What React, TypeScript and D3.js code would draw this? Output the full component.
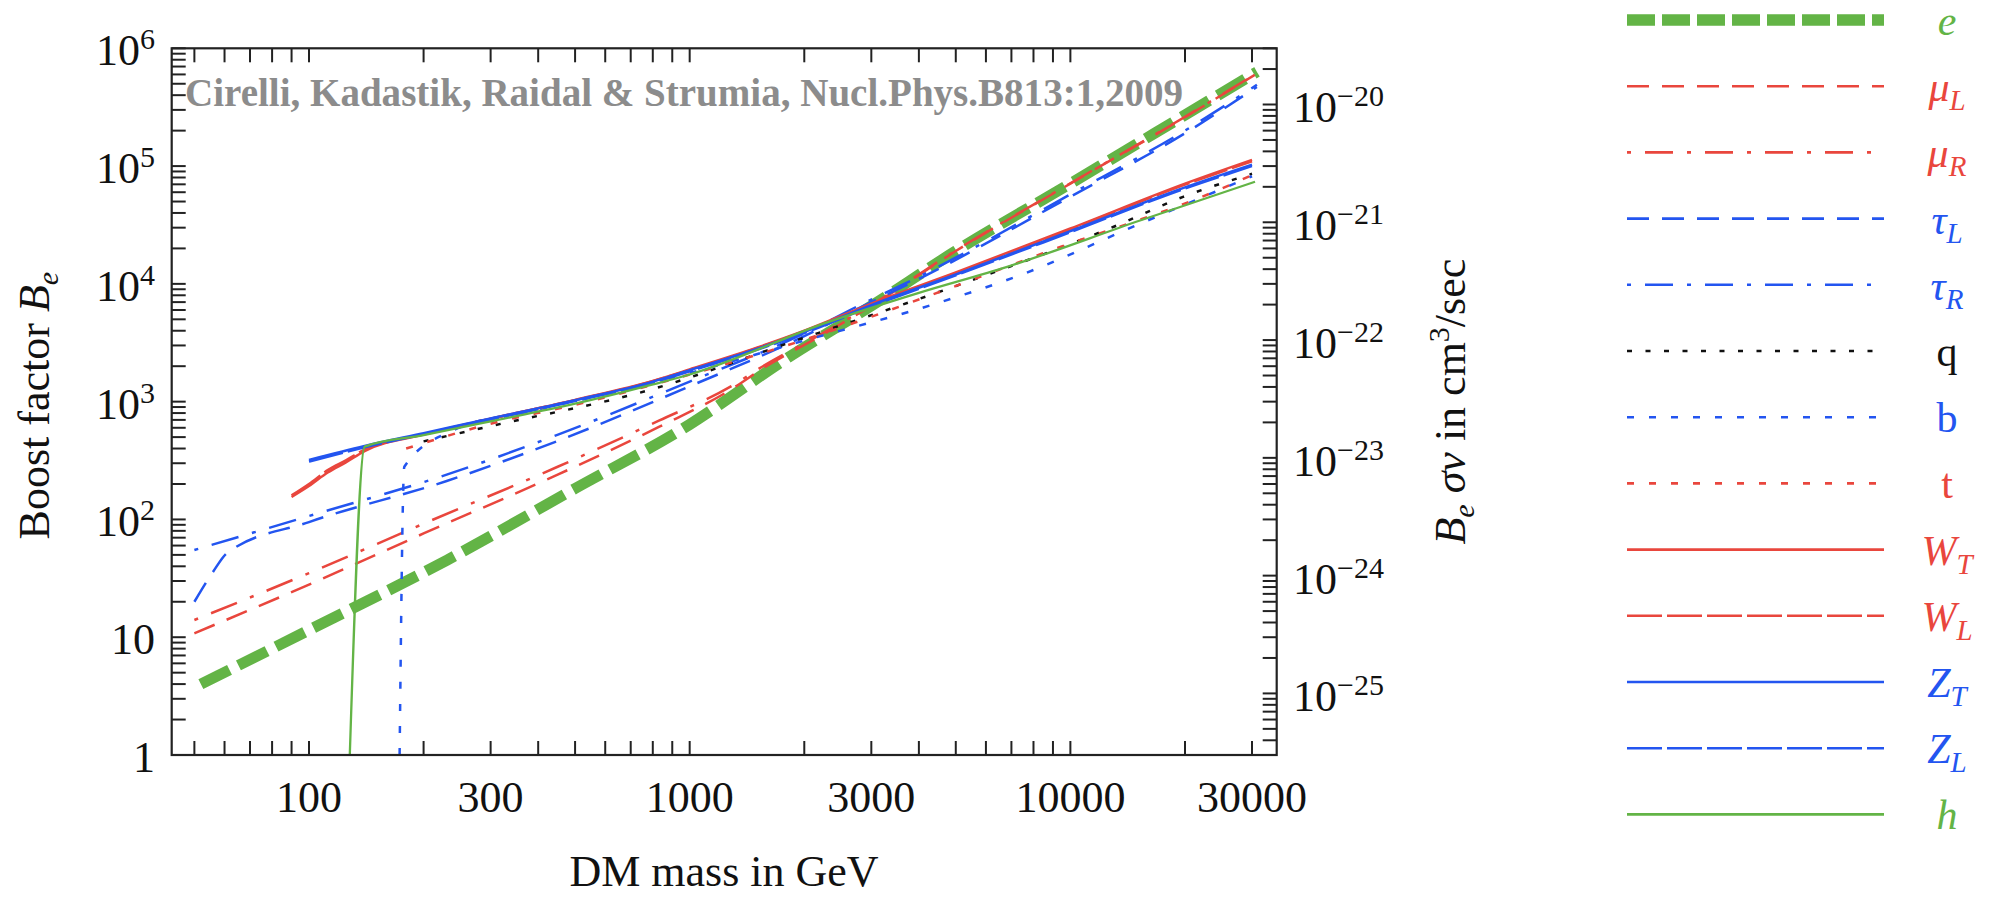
import React from "react";
import * as d3 from "d3";

// ---------- data (DM mass in GeV, boost factor B_e) ----------
const eData: [number, number][] = [[52, 4.0], [100, 11.5], [230, 45], [500, 183], [1000, 640], [1770, 2250], [3000, 6500], [5000, 19000], [10000, 71000], [16600, 189000], [30900, 631000]];
const muLData: [number, number][] = [[50, 10.8], [100, 28], [200, 76], [450, 240], [830, 610], [1280, 1260], [1550, 1900], [2200, 3600], [3000, 6500], [5000, 19000], [10000, 71000], [20000, 260000], [30500, 595000]];
const muRData: [number, number][] = [[50, 14], [100, 35], [200, 92], [450, 280], [830, 690], [1280, 1340], [1550, 1980], [2200, 3700], [3000, 6600], [5000, 19200], [10000, 71500], [20000, 262000], [30500, 600000]];
const tauLData: [number, number][] = [[50, 20], [56, 36], [61, 52], [100, 95], [230, 212], [451, 465], [1000, 1350], [2000, 3600], [2720, 6000], [4000, 11000], [10000, 55000], [20000, 190000], [30900, 470000]];
const tauRData: [number, number][] = [[50, 55], [100, 107], [230, 240], [451, 525], [1000, 1480], [2000, 3800], [2720, 6300], [4000, 11500], [10000, 57500], [20000, 200000], [30900, 490000]];
const qData: [number, number][] = [[200, 460], [300, 620], [787, 1260], [1815, 3140], [4932, 9440], [13000, 30550], [19770, 54800], [30000, 86000]];
const bData: [number, number][] = [[173, 1], [178, 280], [236, 560], [395, 850], [560, 1100], [1000, 1750], [2000, 3300], [4305, 6600], [7600, 12300], [14930, 31500], [30000, 82000]];
const tData: [number, number][] = [[180, 400], [300, 650], [500, 940], [1000, 1700], [2000, 3350], [4426, 8300], [8472, 18200], [26240, 69000], [30000, 84000]];
const WTData: [number, number][] = [[90, 155], [100, 192], [112, 250], [125, 305], [140, 380], [200, 525], [300, 715], [500, 1035], [800, 1500], [1000, 1880], [1500, 2870], [2000, 4000], [3000, 6800], [5000, 12500], [10000, 29500], [20000, 71000], [30000, 113000]];
const WLData: [number, number][] = [[90, 160], [100, 200], [112, 262], [125, 318], [140, 392], [200, 530], [300, 718], [500, 1030], [800, 1490], [1000, 1860], [1500, 2840], [2000, 3960], [3000, 6700], [5000, 12300], [10000, 29000], [20000, 69500], [30000, 110000]];
const ZTData: [number, number][] = [[100, 320], [140, 420], [200, 540], [300, 720], [500, 1030], [800, 1480], [1000, 1850], [1500, 2800], [2000, 3900], [3000, 6600], [5000, 12000], [10000, 28000], [20000, 66000], [30000, 103000]];
const ZLData: [number, number][] = [[100, 310], [140, 410], [200, 530], [300, 705], [500, 1010], [800, 1450], [1000, 1810], [1500, 2750], [2000, 3820], [3000, 6450], [5000, 11800], [10000, 27500], [20000, 64500], [30000, 100000]];
const hData: [number, number][] = [[128, 1], [140, 415], [200, 520], [300, 680], [500, 960], [787, 1380], [1000, 1700], [2317, 4760], [4000, 8400], [6823, 13960], [15310, 34700], [30550, 73600]];

const xTickLabels = [100, 300, 1000, 3000, 10000, 30000];
const yLeftExponents = [0, 1, 2, 3, 4, 5, 6];
const yRightExponents = [-25, -24, -23, -22, -21, -20];
const sigmaV = 3e-26;

const RED = "#E9463D";
const BLUE = "#2355F0";
const GREEN = "#63B446";
const BLACK = "#111111";

type Series = {
  key: string; base: string; sub?: string; italic: boolean; color: string;
  dash?: string; legendDash?: string; width: number; legendWidth: number; data: [number, number][];
};

const series: Series[] = [
  { key: "e", base: "e", italic: true, color: GREEN, dash: "32,10", legendDash: "28,7", width: 11, legendWidth: 11.5, data: eData },
  { key: "muL", base: "μ", sub: "L", italic: true, color: RED, dash: "22,13", width: 2.5, legendWidth: 2.6, data: muLData },
  { key: "muR", base: "μ", sub: "R", italic: true, color: RED, dash: "4,14,28,14", width: 2.5, legendWidth: 2.6, data: muRData },
  { key: "tauL", base: "τ", sub: "L", italic: true, color: BLUE, dash: "22,13", width: 2.5, legendWidth: 2.6, data: tauLData },
  { key: "tauR", base: "τ", sub: "R", italic: true, color: BLUE, dash: "4,14,28,14", width: 2.5, legendWidth: 2.6, data: tauRData },
  { key: "q", base: "q", italic: false, color: BLACK, dash: "5,13.5", width: 2.5, legendWidth: 2.6, data: qData },
  { key: "b", base: "b", italic: false, color: BLUE, dash: "7,15", width: 2.5, legendWidth: 2.6, data: bData },
  { key: "t", base: "t", italic: false, color: RED, dash: "7,15", width: 2.5, legendWidth: 2.6, data: tData },
  { key: "WT", base: "W", sub: "T", italic: true, color: RED, width: 2.5, legendWidth: 2.6, data: WTData },
  { key: "WL", base: "W", sub: "L", italic: true, color: RED, dash: "35,5", width: 2.5, legendWidth: 2.6, data: WLData },
  { key: "ZT", base: "Z", sub: "T", italic: true, color: BLUE, width: 2.5, legendWidth: 2.6, data: ZTData },
  { key: "ZL", base: "Z", sub: "L", italic: true, color: BLUE, dash: "35,5", width: 2.5, legendWidth: 2.6, data: ZLData },
  { key: "h", base: "h", italic: true, color: GREEN, width: 2.3, legendWidth: 2.6, data: hData },
];

const X0 = 171.7, X1 = 1276.7, Y0 = 48.3, Y1 = 755;
const FS = 44;
const AXIS = "#222";

export default function App() {
  const x = d3.scaleLog().domain([43.59, 34830]).range([X0, X1]);
  const y = d3.scaleLog().domain([1, 1e6]).range([Y1, Y0]);
  const yR = d3.scaleLog().domain([1 * sigmaV, 1e6 * sigmaV]).range([Y1, Y0]);
  const line = d3.line<[number, number]>().x(d => x(d[0])).y(d => y(d[1])).curve(d3.curveMonotoneX);

  const xTicks = x.ticks();
  const yTicks = y.ticks();
  const yRTicks = yR.ticks();
  const TL = 14;

  const legendX0 = 1627, legendX1 = 1884, legendTop = 20, legendStep = 66.2, legendLabelX = 1947;

  return (
    <svg width={1991} height={898} style={{ position: "absolute", left: 0, top: 0, background: "#fff" }}
      fontFamily="'Liberation Serif', 'Times New Roman', serif">
      <defs>
        <clipPath id="plotClip">
          <rect x={X0} y={Y0} width={X1 - X0} height={Y1 - Y0} />
        </clipPath>
      </defs>
      <rect x={0} y={0} width={1991} height={898} fill="#fff" />

      {/* curves */}
      <g clipPath="url(#plotClip)" fill="none" strokeLinejoin="round">
        {series.map(s => (
          <path key={s.key} d={line(s.data) || ""} stroke={s.color} strokeWidth={s.width}
            strokeDasharray={s.dash || undefined} />
        ))}
      </g>

      {/* annotation */}
      <text x={185} y={106} fontSize={41} fontWeight="bold" fill="#8c8c8c" textLength={998} lengthAdjust="spacingAndGlyphs">
        Cirelli, Kadastik, Raidal &amp; Strumia, Nucl.Phys.B813:1,2009
      </text>

      {/* frame */}
      <rect x={X0} y={Y0} width={X1 - X0} height={Y1 - Y0} fill="none" stroke={AXIS} strokeWidth={2.2} />

      {/* ticks */}
      <g stroke={AXIS} strokeWidth={2}>
        {xTicks.map((t, i) => (
          <g key={"xt" + i}>
            <line x1={x(t)} x2={x(t)} y1={Y1} y2={Y1 - TL} />
            <line x1={x(t)} x2={x(t)} y1={Y0} y2={Y0 + TL} />
          </g>
        ))}
        {yTicks.map((t, i) => (
          <line key={"yt" + i} x1={X0} x2={X0 + TL} y1={y(t)} y2={y(t)} />
        ))}
        {yRTicks.map((t, i) => (
          <line key={"yrt" + i} x1={X1} x2={X1 - TL} y1={yR(t)} y2={yR(t)} />
        ))}
      </g>

      {/* x tick labels */}
      {xTickLabels.map(v => (
        <text key={"xl" + v} x={x(v)} y={812} fontSize={FS} textAnchor="middle" fill="#111">{v}</text>
      ))}

      {/* left tick labels */}
      {yLeftExponents.map(p => (
        <text key={"yl" + p} x={155} y={y(Math.pow(10, p)) + 17} fontSize={FS} textAnchor="end" fill="#111">
          {p === 0 ? "1" : p === 1 ? "10" : <>10<tspan dy={-16} fontSize={30}>{p}</tspan></>}
        </text>
      ))}

      {/* right tick labels */}
      {yRightExponents.map(p => (
        <text key={"yr" + p} x={1293} y={yR(Math.pow(10, p)) + 18} fontSize={FS} textAnchor="start" fill="#111">
          10<tspan dy={-16} fontSize={30}>{"\u2212" + Math.abs(p)}</tspan>
        </text>
      ))}

      {/* axis titles */}
      <text x={724} y={886} fontSize={FS} textAnchor="middle" fill="#111">DM mass in GeV</text>
      <text transform={`translate(49, ${(Y0 + Y1) / 2 + 4}) rotate(-90)`} fontSize={FS} textAnchor="middle" fill="#111">
        Boost factor <tspan fontStyle="italic">B</tspan><tspan fontStyle="italic" fontSize={30} dy={9}>e</tspan>
      </text>
      <text transform={`translate(1465, ${(Y0 + Y1) / 2}) rotate(-90)`} fontSize={FS} textAnchor="middle" fill="#111">
        <tspan fontStyle="italic">B</tspan><tspan fontStyle="italic" fontSize={30} dy={9}>e</tspan>
        <tspan dy={-9} fontStyle="italic"> σv</tspan><tspan> in cm</tspan><tspan fontSize={30} dy={-16}>3</tspan><tspan dy={16}>/sec</tspan>
      </text>

      {/* legend */}
      {series.map((s, i) => {
        const ry = legendTop + i * legendStep;
        return (
          <g key={"lg" + s.key}>
            <line x1={legendX0} x2={legendX1} y1={ry} y2={ry} stroke={s.color} strokeWidth={s.legendWidth}
              strokeDasharray={(s.legendDash || s.dash) || undefined} />
            <text x={legendLabelX} y={ry + 15} fontSize={42} textAnchor="middle" fill={s.color}
              fontStyle={s.italic ? "italic" : "normal"}>
              {s.base}
              {s.sub ? <tspan fontSize={29} dy={9}>{s.sub}</tspan> : null}
            </text>
          </g>
        );
      })}
    </svg>
  );
}
